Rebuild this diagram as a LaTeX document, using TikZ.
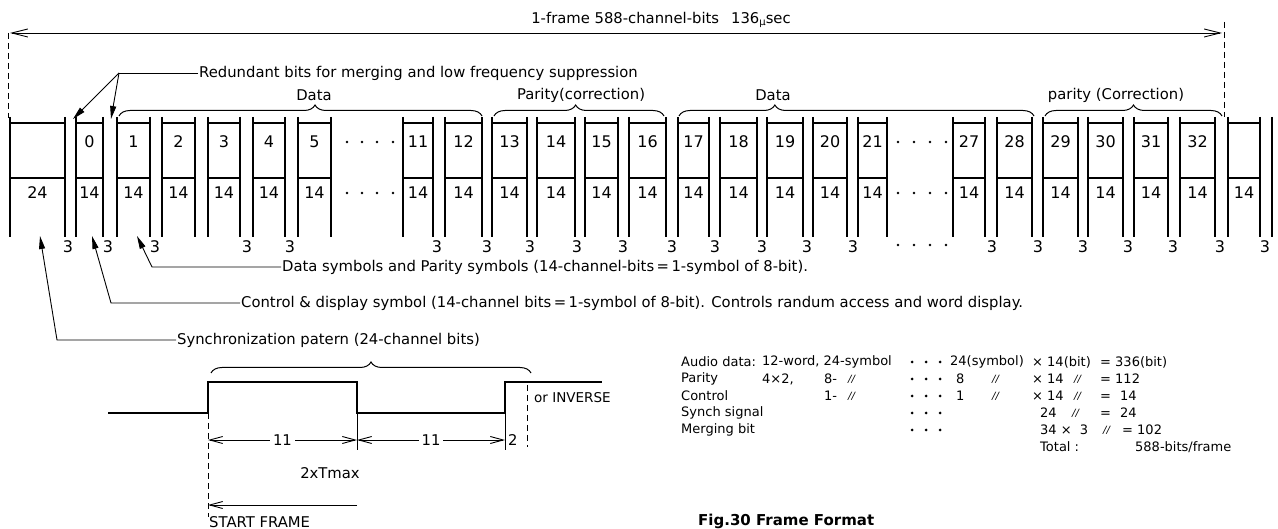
\documentclass[tikz,border=0pt]{standalone}
\usepackage{fontspec}
\setmainfont{DejaVu Sans}
\usetikzlibrary{arrows.meta,decorations.pathreplacing,calc}

\begin{document}
\begin{tikzpicture}[x=1pt, y=-1pt,
  txt/.style={font=\fontsize{14.8}{16}\selectfont, inner sep=1pt},
  num/.style={font=\fontsize{16}{18}\selectfont, inner sep=0pt},
  tab/.style={font=\fontsize{13}{15}\selectfont, anchor=west, inner sep=0pt},
  ditto/.style={font=\fontsize{10}{10}\selectfont\itshape, anchor=west, inner sep=0pt},
  boxline/.style={line width=1.7pt},
  thinline/.style={line width=0.9pt},
  lead/.style={line width=0.9pt, -{Triangle[length=13pt,width=6pt]}},
  dimarr/.style={line width=0.9pt, {Straight Barb[length=13pt,width=7pt]}-{Straight Barb[length=13pt,width=7pt]}},
  onearr/.style={line width=0.9pt, -{Straight Barb[length=13pt,width=7pt]}},
  frameline/.style={line width=0.9pt, dash pattern=on 6pt off 4pt},
  curly/.style={decorate, decoration={brace, amplitude=11pt, aspect=#1}, line width=1pt},
  curly/.default=0.5,
  wave/.style={line width=2.6pt}
]
\useasboundingbox (0,0) rectangle (1278,529);

% frame length
\node[txt] (title) at (661,20) {1-frame 588-channel-bits\hspace{12pt}136\raisebox{-2pt}{\fontsize{10}{10}\selectfont μ}sec};
\coordinate (fl) at (10,33);
\coordinate (fr) at (1222,33);
\draw[line width=0.9pt, {Straight Barb[length=16pt,width=8pt]}-{Straight Barb[length=16pt,width=8pt]}] (fl) -- (fr);
\draw[frameline] (8,33) -- (8,118);
\draw[frameline] (1224,22) -- (1224,117);

% symbols of one frame
\foreach \l/\r/\t/\b/\n in {10/65/{}/24/s, 76/103/0/14/c, 117/150/1/14/1, 162/195/2/14/2,
    208/240/3/14/3, 253/285/4/14/4, 298/331/5/14/5, 403/433/11/14/11, 445/482/12/14/12,
    492/527/13/14/13, 537/575/14/14/14, 585/618/15/14/15, 629/666/16/14/16,
    678/709/17/14/17, 720/757/18/14/18, 767/803/19/14/19, 813/847/20/14/20,
    858/887/21/14/21, 953/985/27/14/27, 997/1032/28/14/28, 1043/1078/29/14/29,
    1088/1123/30/14/30, 1134/1168/31/14/31, 1180/1215/32/14/32, 1228/1260/{}/14/n}{
  \draw[boxline] (\l,117) -- (\l,237) (\r,117) -- (\r,237);
  \draw[line width=1.4pt] (\l,123) -- (\r,123) (\l,178) -- (\r,178);
  \node[num] (top-\n) at ({(\l+\r)/2},142) {\t};
  \node[num] (bot-\n) at ({(\l+\r)/2},193) {\b};
}
\draw[boxline] (1272,117) -- (1272,237);

% merging bits
\foreach \x [count=\i] in {68,108,155,247,290,437,487,530,577,623,672,715,762,807,853,
    992,1038,1083,1128,1173,1220,1265}
  \node[num] (three-\i) at (\x,247) {3};

% omitted symbols
\foreach \x in {347,362,377,393} {
  \fill (\x,142) circle (1.4);
  \fill (\x,193) circle (1.4);
}
\foreach \x in {898,914,930,946} {
  \fill (\x,142) circle (1.4);
  \fill (\x,193) circle (1.4);
  \fill (\x,245) circle (1.4);
}

% groups
\node[txt] (lbl-d1) at (314,95) {Data};
\node[txt] (lbl-p1) at (581,95) {Parity(correction)};
\node[txt] (lbl-d2) at (773,95) {Data};
\node[txt] (lbl-p2) at (1116,95) {parity (Correction)};
\draw[curly=0.54] (119,116) -- (482,116);
\draw[curly=0.48] (494,116) -- (664,116);
\draw[curly=0.27] (679,116) -- (1034,116);
\draw[curly=0.5] (1045,116) -- (1222,116);

% redundant bits
\node[txt, anchor=west] (redtxt) at (198,73) {Redundant bits for merging and low frequency suppression};
\coordinate (redk) at (119,73);
\coordinate (tipr1) at (73,119);
\coordinate (tipr2) at (111,119);
\draw[thinline] (redtxt.west) -- (redk);
\draw[lead] (redk) -- (tipr1);
\draw[lead] (redk) -- (tipr2);

% leaders from below
\node[txt, anchor=west] (dstxt) at (281,267) {Data symbols and Parity symbols (14-channel-bits\,=\,1-symbol of 8-bit).};
\coordinate (dsk) at (152,267);
\coordinate (dstip) at (137,236);
\draw[lead] (dstxt.west) -- (dsk) -- (dstip);

\node[txt, anchor=west] (cdtxt) at (240,303) {Control \& display symbol (14-channel bits\,=\,1-symbol of 8-bit). Controls randum access and word display.};
\coordinate (cdk) at (111,303);
\coordinate (cdtip) at (92,236);
\draw[lead] (cdtxt.west) -- (cdk) -- (cdtip);

\node[txt, anchor=west] (sytxt) at (176,340) {Synchronization patern (24-channel bits)};
\coordinate (syk) at (57,340);
\coordinate (sytip) at (40,236);
\draw[lead] (sytxt.west) -- (syk) -- (sytip);

% sync pattern
\draw[curly] (211,373) -- (531,373);
\draw[wave] (108,413) -- (208,413) -- (208,382) -- (357,382) -- (357,413) -- (505,413) -- (505,382) -- (602,382);
\node[txt, anchor=west, font=\fontsize{13.5}{15}\selectfont] (inv) at (533,398) {or INVERSE};
\draw[frameline] (208,413) -- (208,517);
\draw[frameline] (527,385) -- (527,447);
\draw[thinline] (357,413) -- (357,450);
\draw[thinline] (505,413) -- (505,450);
\coordinate (d0) at (208,440);
\coordinate (d1) at (357,440);
\coordinate (d2) at (505,440);
\draw[dimarr] (d0) -- node[txt, fill=white, inner xsep=3pt] (n11a) {11} (d1);
\draw[dimarr] (d1) -- node[txt, fill=white, inner xsep=3pt] (n11b) {11} (d2);
\node[txt, anchor=west] (n2) at (507,440) {2};
\node[txt] (tmax) at (330,473) {2xTmax};
\coordinate (sf0) at (357,505);
\coordinate (sf1) at (208,505);
\draw[onearr] (sf0) -- (sf1);
\node[txt, anchor=west] (sftxt) at (208,522) {START FRAME};

% bit count
\node[tab] (r1a) at (681,362) {Audio data:};
\node[tab] (r1b) at (762,362) {12-word, 24-symbol};
\node[tab] (r1c) at (950,362) {24(symbol)};
\node[tab] (r1d) at (1032,362) {× 14(bit)};
\node[tab] (r1e) at (1100,362) {= 336(bit)};
\node[tab] (r2a) at (681,379) {Parity};
\node[tab] (r2b) at (762,379) {4×2,};
\node[tab] (r2c) at (824,379) {8-};
\node[ditto] (r2d) at (848,379) {//};
\node[tab] (r2e) at (956,379) {8};
\node[ditto] (r2f) at (992,379) {//};
\node[tab] (r2g) at (1032,379) {× 14};
\node[ditto] (r2h) at (1074,379) {//};
\node[tab] (r2i) at (1100,379) {= 112};
\node[tab] (r3a) at (681,396) {Control};
\node[tab] (r3c) at (824,396) {1-};
\node[ditto] (r3d) at (848,396) {//};
\node[tab] (r3e) at (956,396) {1};
\node[ditto] (r3f) at (992,396) {//};
\node[tab] (r3g) at (1032,396) {× 14};
\node[ditto] (r3h) at (1074,396) {//};
\node[tab] (r3i) at (1100,396) {=\hspace{9pt}14};
\node[tab] (r4a) at (681,413) {Synch signal};
\node[tab] (r4b) at (1040,413) {24};
\node[ditto] (r4c) at (1072,413) {//};
\node[tab] (r4d) at (1100,413) {=\hspace{9pt}24};
\node[tab] (r5a) at (681,430) {Merging bit};
\node[tab] (r5b) at (1040,430) {34 ×\hspace{8pt}3};
\node[ditto] (r5c) at (1103,430) {//};
\node[tab] (r5d) at (1122,430) {= 102};
\node[tab] (r6a) at (1040,447) {Total :};
\node[tab] (r6b) at (1135,447) {588-bits/frame};
\foreach \y in {362,379,396,413,430}
  \foreach \x in {912,926,940}
    \fill (\x,\y) circle (1.5);

% caption
\node[anchor=base west, inner sep=0pt, font=\fontsize{15}{15}\selectfont\bfseries] (cap) at (698,525) {Fig.30 Frame Format};
\end{tikzpicture}
\end{document}
